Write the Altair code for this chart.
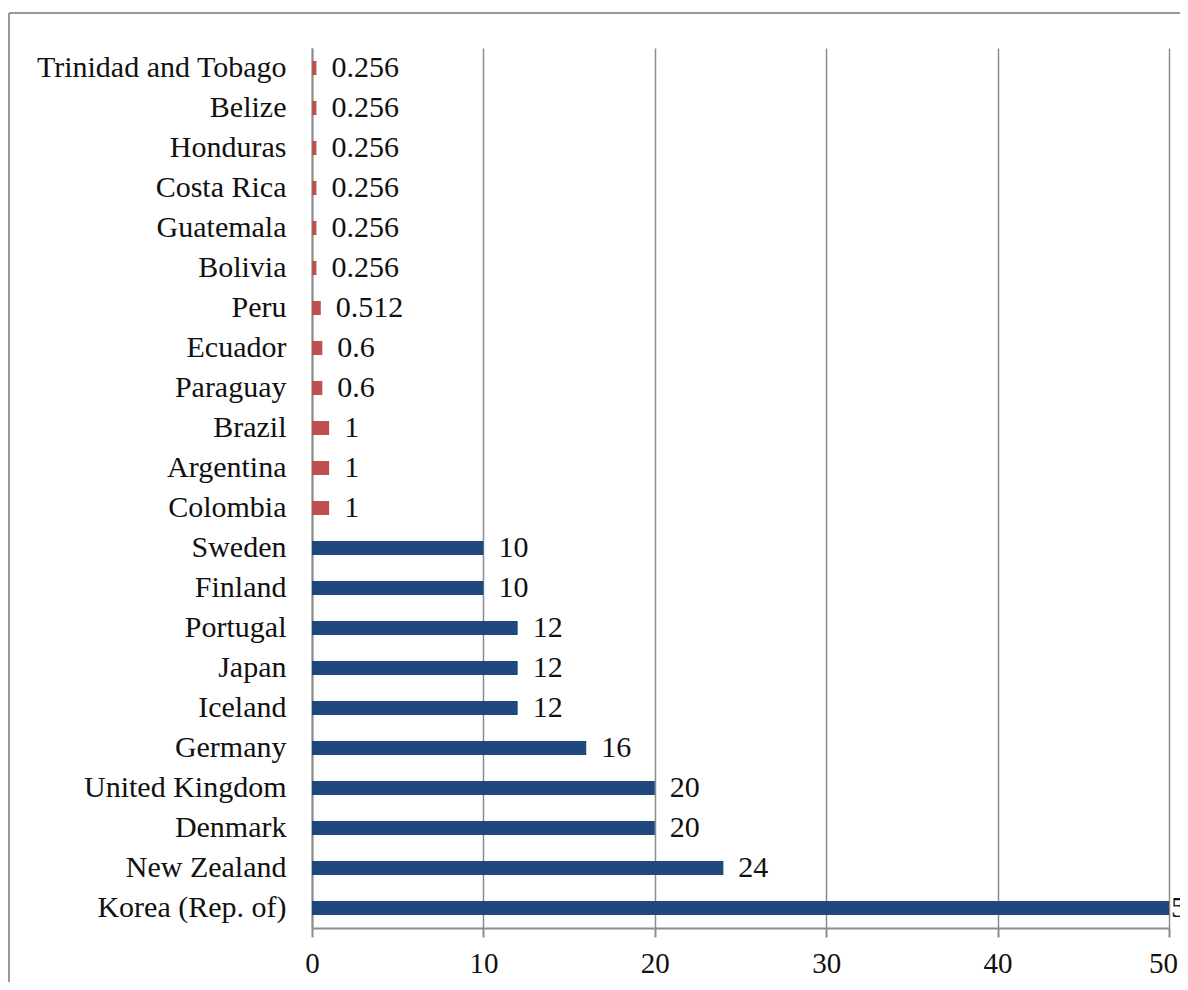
import altair as alt
import pandas as pd

countries = [
    "Trinidad and Tobago", "Belize", "Honduras", "Costa Rica", "Guatemala",
    "Bolivia", "Peru", "Ecuador", "Paraguay", "Brazil", "Argentina", "Colombia",
    "Sweden", "Finland", "Portugal", "Japan", "Iceland", "Germany",
    "United Kingdom", "Denmark", "New Zealand", "Korea (Rep. of)",
]
values = [
    0.256, 0.256, 0.256, 0.256, 0.256, 0.256, 0.512, 0.6, 0.6, 1, 1, 1,
    10, 10, 12, 12, 12, 16, 20, 20, 24, 50,
]
groups = ["Latin America"] * 12 + ["OECD"] * 10
x_ticks = [0, 10, 20, 30, 40, 50]
x_max = 50

df = pd.DataFrame({"country": countries, "value": values, "group": groups})

FONT = "Liberation Serif"
GRAY = "#8c8c8c"
FS = 30

y_enc = alt.Y(
    "country:N",
    sort=countries,
    scale=alt.Scale(paddingInner=0, paddingOuter=0),
    axis=alt.Axis(
        title=None, ticks=False, domain=True, domainColor=GRAY, domainWidth=2,
        labelFont=FONT, labelFontSize=FS, labelColor="#111111", labelPadding=26,
        labelLimit=400,
    ),
)
x_enc = alt.X(
    "value:Q",
    scale=alt.Scale(domain=[0, x_max], nice=False),
    axis=alt.Axis(
        title=None, values=x_ticks, grid=True, gridColor=GRAY, gridWidth=1.5,
        domainColor=GRAY, domainWidth=2, tickColor=GRAY, tickWidth=2, tickSize=9,
        labelFont=FONT, labelFontSize=29, labelColor="#111111", labelPadding=12,
        labelFlush=False,
        labelOffset={"condition": {"test": "datum.value == 50", "value": -6}, "value": 0},
    ),
)

bars = alt.Chart(df).mark_bar(size=14).encode(
    y=y_enc,
    x=x_enc,
    color=alt.Color(
        "group:N",
        scale=alt.Scale(domain=["Latin America", "OECD"], range=["#C0504D", "#1F497D"]),
        legend=None,
    ),
)

label_enc = dict(y=alt.Y("country:N", sort=countries), x="value:Q", text="value:Q")
labels = alt.Chart(df).transform_filter(f"datum.value < {x_max}").mark_text(
    align="left", baseline="middle", dx=15, font=FONT, fontSize=FS, color="#111111"
).encode(**label_enc)
labels_edge = alt.Chart(df).transform_filter(f"datum.value >= {x_max}").mark_text(
    align="left", baseline="middle", dx=2, font=FONT, fontSize=FS, color="#111111"
).encode(**label_enc)

frame_data = alt.Data(values=[{"k": 1}])
frame_top = alt.Chart(frame_data).mark_rule(color="#999999", strokeWidth=2).encode(
    x=alt.value(-303), x2=alt.value(950), y=alt.value(-35)
)
frame_left = alt.Chart(frame_data).mark_rule(color="#999999", strokeWidth=2).encode(
    x=alt.value(-303), y=alt.value(-35), y2=alt.value(1000)
)

chart = alt.layer(bars, labels, labels_edge, frame_top, frame_left).properties(
    width=857,
    height=880,
    autosize=alt.AutoSizeParams(type="none"),
    padding={"left": 304, "top": 40, "right": 11, "bottom": 54},
    background="white",
).configure_view(stroke=None)

chart.save("out.html", embed_options={"renderer": "svg", "actions": False})
